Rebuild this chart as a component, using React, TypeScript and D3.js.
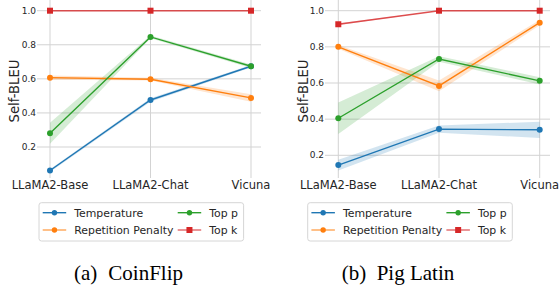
import React from "react";
import * as d3 from "d3";

const categories = ["LLaMA2-Base", "LLaMA2-Chat", "Vicuna"];
const seriesNames = ["Temperature", "Repetition Penalty", "Top p", "Top k"];
const seriesColors = ["#1f77b4", "#ff7f0e", "#2ca02c", "#d62728"];
const yTicks = [0.2, 0.4, 0.6, 0.8, 1.0];

// CoinFlip
const coinTemperature = [0.062, 0.476, 0.674];
const coinTemperatureErr = [0.008, 0.01, 0.008];
const coinRepetition = [0.607, 0.598, 0.488];
const coinRepetitionErr = [0.012, 0.008, 0.022];
const coinTopP = [0.281, 0.846, 0.674];
const coinTopPErr = [0.062, 0.008, 0.01];
const coinTopK = [1.0, 1.0, 1.0];
const coinTopKErr = [0, 0, 0];

// Pig Latin
const pigTemperature = [0.146, 0.345, 0.341];
const pigTemperatureErr = [0.03, 0.02, 0.045];
const pigRepetition = [0.8, 0.584, 0.934];
const pigRepetitionErr = [0.01, 0.03, 0.015];
const pigTopP = [0.405, 0.733, 0.612];
const pigTopPErr = [0.087, 0.015, 0.02];
const pigTopK = [0.925, 1.0, 1.0];
const pigTopKErr = [0.005, 0, 0];

const FONT = "DejaVu Sans, sans-serif";

type PanelProps = {
  values: number[][];
  errs: number[][];
  xRange: [number, number];
  axLeft: number;
  axRight: number;
  yRange: [number, number];
  ylabelX: number;
  legendX: number;
  capA: string;
  capB: string;
  capAX: number;
  capBX: number;
};

function Panel(p: PanelProps) {
  const x = d3.scalePoint<string>().domain(categories).range(p.xRange);
  const y = d3.scaleLinear().domain([0.2, 1.0]).range(p.yRange);
  const line = d3
    .line<number>()
    .x((_, i) => x(categories[i]) as number)
    .y((d) => y(d));
  const gridColor = "#d3d3d3";
  const lx = p.legendX;
  return (
    <g>
      {/* grid */}
      {yTicks.map((t) => (
        <g key={"y" + t}>
          <line x1={p.axLeft - 3} x2={p.axRight} y1={y(t)} y2={y(t)} stroke={gridColor} strokeWidth={1} />
          <text x={p.axLeft - 4} y={y(t)} dy="0.35em" textAnchor="end" fontSize={9} fill="#262626" fontFamily={FONT}>
            {t.toFixed(1)}
          </text>
        </g>
      ))}
      {categories.map((c) => (
        <g key={c}>
          <line x1={x(c)} x2={x(c)} y1={0} y2={178} stroke={gridColor} strokeWidth={1} />
          <text x={x(c)} y={189} textAnchor="middle" fontSize={11.5} fill="#262626" fontFamily={FONT}>
            {c}
          </text>
        </g>
      ))}
      <text
        transform={`translate(${p.ylabelX},91) rotate(-90)`}
        textAnchor="middle"
        dy="0.35em"
        fontSize={13.2}
        fill="#262626"
        fontFamily={FONT}
      >
        Self-BLEU
      </text>
      {/* bands */}
      {p.values.map((vals, si) => {
        const area = d3
          .area<number>()
          .x((_, i) => x(categories[i]) as number)
          .y0((d, i) => y(d - p.errs[si][i]))
          .y1((d, i) => y(d + p.errs[si][i]));
        return <path key={"b" + si} d={area(vals) || ""} fill={seriesColors[si]} opacity={0.2} />;
      })}
      {/* lines */}
      {p.values.map((vals, si) => (
        <g key={"l" + si}>
          <path d={line(vals) || ""} fill="none" stroke={seriesColors[si]} strokeWidth={1.4} strokeOpacity={si === 3 ? 0.8 : 1} />
          {vals.map((v, i) =>
            si === 3 ? (
              <rect key={i} x={(x(categories[i]) as number) - 3} y={y(v) - 3} width={6} height={6} fill={seriesColors[si]} />
            ) : (
              <circle key={i} cx={x(categories[i])} cy={y(v)} r={3} fill={seriesColors[si]} />
            )
          )}
        </g>
      ))}
      {/* legend */}
      <rect x={lx} y={202.7} width={204.6} height={38.3} rx={2.5} fill="white" stroke="#d6d6d6" strokeWidth={1} />
      {seriesNames.map((n, si) => {
        const col = si < 2 ? 0 : 1;
        const row = si % 2;
        const hx = lx + (col === 0 ? 3.7 : 138.7);
        const ty = 212.7 + row * 17.3;
        return (
          <g key={n}>
            <line x1={hx} x2={hx + 23.5} y1={ty} y2={ty} stroke={seriesColors[si]} strokeWidth={1.4} strokeOpacity={si === 0 || si === 2 ? 1 : 0.7} />
            {si === 3 ? (
              <rect x={hx + 11.75 - 3} y={ty - 3} width={6} height={6} fill={seriesColors[si]} />
            ) : (
              <circle cx={hx + 11.75} cy={ty} r={2.7} fill={seriesColors[si]} />
            )}
            <text x={hx + 31.5} y={ty} dy="0.35em" fontSize={10.9} fill="#262626" fontFamily={FONT}>
              {n}
            </text>
          </g>
        );
      })}
      {/* caption */}
      <text x={p.capAX} y={280} fontSize={21} fill="#000" fontFamily="Liberation Serif, Times New Roman, serif">
        {p.capA}
      </text>
      <text x={p.capBX} y={280} fontSize={21} fill="#000" fontFamily="Liberation Serif, Times New Roman, serif">
        {p.capB}
      </text>
    </g>
  );
}

export default function App() {
  return (
    <svg width={559} height={289} style={{ position: "absolute", left: 0, top: 0, background: "white" }}>
      <rect width={559} height={289} fill="white" />
      <Panel
        values={[coinTemperature, coinRepetition, coinTopP, coinTopK]}
        errs={[coinTemperatureErr, coinRepetitionErr, coinTopPErr, coinTopKErr]}
        xRange={[50, 251]}
        axLeft={40}
        axRight={261}
        yRange={[147, 10.7]}
        ylabelX={14}
        legendX={39}
        capA="(a)"
        capB="CoinFlip"
        capAX={74}
        capBX={108.3}
      />
      <Panel
        values={[pigTemperature, pigRepetition, pigTopP, pigTopK]}
        errs={[pigTemperatureErr, pigRepetitionErr, pigTopPErr, pigTopKErr]}
        xRange={[338.3, 539.7]}
        axLeft={328}
        axRight={550}
        yRange={[155.3, 10.7]}
        ylabelX={303.5}
        legendX={307.7}
        capA="(b)"
        capB="Pig Latin"
        capAX={341.7}
        capBX={376.7}
      />
    </svg>
  );
}
